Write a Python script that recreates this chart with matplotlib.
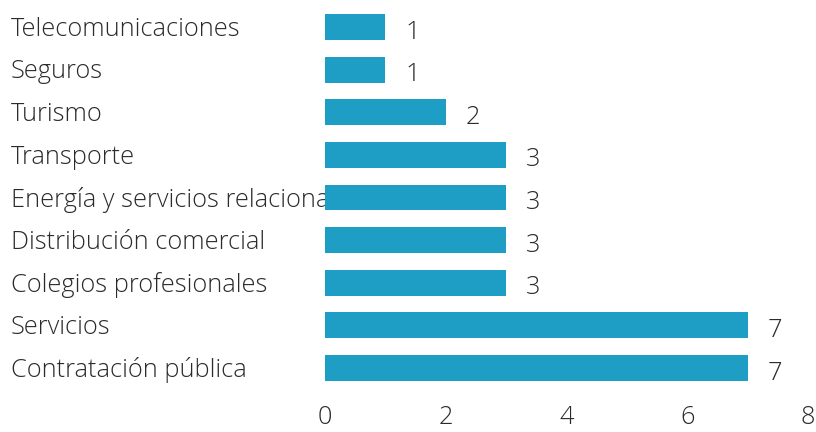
import matplotlib
matplotlib.use("Agg")
import matplotlib.pyplot as plt
import matplotlib.transforms as mtransforms

categories = ["Telecomunicaciones", "Seguros", "Turismo", "Transporte",
              "Energía y servicios relacionados", "Distribución comercial",
              "Colegios profesionales", "Servicios", "Contratación pública"]
values = [1, 1, 2, 3, 3, 3, 3, 7, 7]
xticks = [0, 2, 4, 6, 8]

BAR = "#1E9DC5"
TXT = "#2b2b2b"
FS = 18.3
plt.rcParams['font.family'] = ['Open Sans', 'DejaVu Sans']

fig = plt.figure(figsize=(8.16, 4.32), dpi=100)
ax = fig.add_axes([325/816, 1-389.3/432, (808-325)/816, (389.3-5.7)/432])

ypos = list(range(len(categories)))
ax.barh(ypos, values, height=0.61, color=BAR, zorder=3)
ax.set_xlim(0, 8)
ax.set_ylim(len(categories)-0.5, -0.5)

for s in ax.spines.values():
    s.set_visible(False)
ax.set_yticks([])
ax.set_xticks(xticks)
ax.set_xticklabels([str(t) for t in xticks], fontsize=FS, color=TXT, fontweight='light')
ax.tick_params(axis='x', length=0, pad=11)

trans = mtransforms.blended_transform_factory(fig.transFigure, ax.transData)
for y, c in zip(ypos, categories):
    ax.text(11/816, y + 0.05, c, transform=trans, ha='left', va='center',
            fontsize=FS, color=TXT, fontweight='light', clip_on=False, zorder=1)

off = mtransforms.ScaledTranslation(20/100, 0, fig.dpi_scale_trans)
for y, v in zip(ypos, values):
    ax.text(v, y + 0.12, str(v), ha='left', va='center', fontsize=FS, color=TXT,
            fontweight='light', zorder=4, transform=ax.transData + off)

fig.savefig("out.png", dpi=100)
